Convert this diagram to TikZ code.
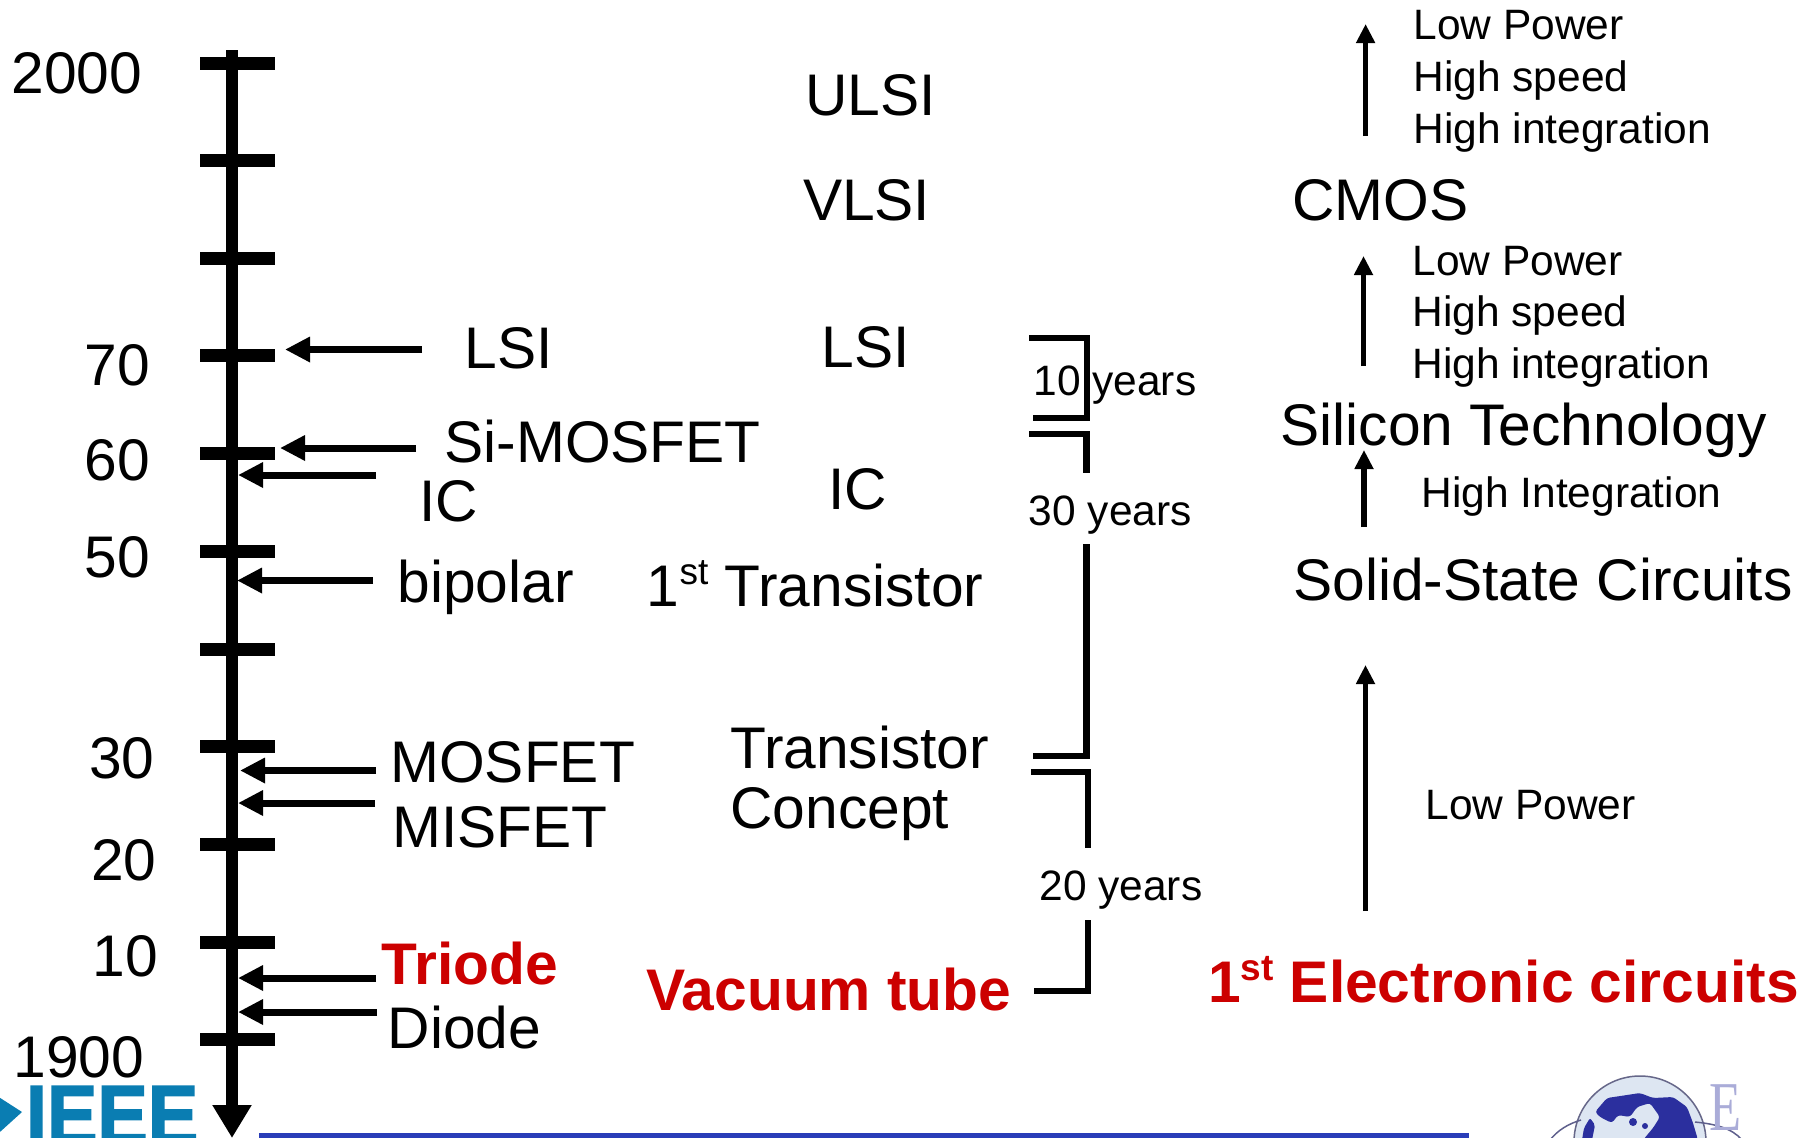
\documentclass[tikz,border=0pt]{standalone}
\usepackage{fontspec}
\setmainfont{Liberation Sans}
\newfontfamily\serifE{Liberation Serif}
\newfontfamily\ieeefont[FakeBold=2]{Liberation Sans Bold}
\usetikzlibrary{arrows.meta}
\definecolor{tred}{HTML}{CC0000}
\definecolor{tblue}{HTML}{2A3DB8}
\definecolor{ieee}{HTML}{0A7DB2}
\definecolor{globe}{HTML}{2B2F9E}
\definecolor{globel}{HTML}{DDE6F2}
\newcommand{\stsup}[1]{\raisebox{.38em}{\fontsize{#1}{#1}\selectfont st}}
\tikzset{
 x=1pt,y=-1pt,
 lbl/.style={anchor=base west,inner sep=0pt,outer sep=0pt,text=black},
 big/.style={lbl,xshift=-.6pt,yshift=.4pt,font=\fontsize{58.7}{58.7}\selectfont},
 small/.style={lbl,xshift=-.6pt,yshift=0pt,font=\fontsize{42.5}{42.5}\selectfont},
 redb/.style={lbl,text=tred,font=\fontsize{58.7}{58.7}\selectfont\bfseries},
 tick/.style={line width=13pt},
 axis/.style={line width=12pt,-{Triangle[length=33pt,width=37pt]}},
 larrow/.style={line width=7pt,-{Triangle[length=25pt,width=24pt]}},
 uparrow/.style={line width=5.5pt,-{Triangle[length=19pt,width=18pt]}},
 brk/.style={line width=6.5pt,miter limit=10},
 brkt/.style={line width=5.5pt,miter limit=10},
}
\begin{document}
\begin{tikzpicture}
\useasboundingbox (0,0) rectangle (1813,1138);
% logos
\begin{scope}
\clip (0,0) rectangle (1813,1138);
\fill[ieee] (-20,1085) -- (22,1112) -- (-20,1150) -- cycle;
\node[lbl,text=ieee,font=\fontsize{84}{84}\ieeefont,xscale=.9,anchor=base west] (ieeelogo) at (26,1144) {IEEE};
\fill[tblue] (259,1133) rectangle (1469,1138);
\fill[globel] (1640,1142) circle (66);
\draw[gray!70!globe,line width=1.5pt] (1640,1142) circle (66);
\draw[gray!60!globe,line width=1.5pt] (1550,1140) .. controls (1558,1130) and (1568,1124) .. (1581,1120);
\draw[gray!60!globe,line width=1.5pt] (1695,1122) .. controls (1715,1124) and (1732,1128) .. (1742,1140);
\fill[globe,rounded corners=3pt] (1595,1112) -- (1607,1098) -- (1627,1095) -- (1640,1093) -- (1653,1098) -- (1673,1097) -- (1687,1107) -- (1693,1123) -- (1698,1140) -- (1643,1140) -- (1653,1128) -- (1660,1117) -- (1650,1103) -- (1637,1107) -- (1630,1117) -- (1618,1115) -- (1612,1123) -- (1600,1117) -- cycle;
\fill[globe] (1633,1122) circle (4);
\fill[globe] (1645,1126) circle (3);
\fill[globe,rounded corners=2pt] (1590,1118) -- (1595,1125) -- (1592,1140) -- (1582,1140) -- (1584,1128) -- cycle;
\node[lbl,text=globe!40,font=\fontsize{70}{70}\serifE,xscale=.75,anchor=base west] (globee) at (1709,1130) {E};
\end{scope}
% axis
\coordinate (axtop) at (232,50);
\coordinate (axbot) at (232,1138);
\draw[axis] (axtop) -- (axbot);
\foreach \yy in {63,160.5,258,355.5,453,551,649,746,844,942,1039}
  \draw[tick] (200,\yy) -- (275,\yy);
% year labels
\node[big] (y2000) at (12,93.7) {2000};
\node[big] (y70) at (85,386) {70};
\node[big] (y60) at (85,481) {60};
\node[big] (y50) at (85,578) {50};
\node[big] (y30) at (89.6,779) {30};
\node[big] (y20) at (91.6,881) {20};
\node[big] (y10) at (93,977) {10};
\node[big] (y1900) at (14,1078) {1900};
% left labels
\node[big] (lsi) at (465,369) {LSI};
\node[big] (simos) at (445,462.5) {Si-MOSFET};
\node[big] (ic) at (420,521.5) {IC};
\node[big] (bip) at (398,602.5) {bipolar};
\node[big] (mos) at (391,783) {MOSFET};
\node[big] (mis) at (393,847.5) {MISFET};
\node[redb] (tri) at (381.6,984) {Triode};
\node[big] (dio) at (388.5,1049) {Diode};
% left arrows
\foreach \nm/\yy/\xa/\xb in {a/349.5/422/285,b/448/416/280,c/475/376/238,d/580.5/373/237,e/770.5/376/240,f/803/375/238,g/978/376/238,h/1012/377/238}{
  \coordinate (\nm s) at (\xa,\yy);
  \coordinate (\nm e) at (\xb,\yy);
  \draw[larrow] (\nm s) -- (\nm e);
}
% middle labels
\node[big] (ulsi) at (806,115.6) {ULSI};
\node[big] (vlsi) at (803.6,221) {VLSI};
\node[big] (lsim) at (822,367.7) {LSI};
\node[big] (icm) at (829,510) {IC};
\node[big] (tr1) at (647.5,607) {1\stsup{37} Transistor};
\node[big] (trc) at (731,769) {Transistor};
\node[big] (con) at (731,829) {Concept};
\node[redb] (vac) at (646,1010) {Vacuum tube};
% brackets
\coordinate (b1a) at (1029,338); \coordinate (b1b) at (1087,338); \coordinate (b1c) at (1087,418); \coordinate (b1d) at (1033,418);
\draw[brk] (b1a) -- (b1b) -- (b1c) -- (b1d);
\coordinate (b2a) at (1029,434); \coordinate (b2b) at (1086.5,434); \coordinate (b2c) at (1086.5,473);
\draw[brk] (b2a) -- (b2b) -- (b2c);
\coordinate (b3a) at (1086.5,544); \coordinate (b3b) at (1086.5,756); \coordinate (b3c) at (1033,756);
\draw[brk] (b3a) -- (b3b) -- (b3c);
\coordinate (b4a) at (1031,772); \coordinate (b4b) at (1088,772); \coordinate (b4c) at (1088,848);
\draw[brkt] (b4a) -- (b4b) -- (b4c);
\coordinate (b5a) at (1088,920); \coordinate (b5b) at (1088,991); \coordinate (b5c) at (1034,991);
\draw[brkt] (b5a) -- (b5b) -- (b5c);
\node[small] (t10) at (1034,395.5) {10 years};
\node[small] (t30) at (1029.4,525) {30 years};
\node[small] (t20) at (1040,900) {20 years};
% right column
\node[small] (r1) at (1414,39) {Low Power};
\node[small] (r2) at (1414,91) {High speed};
\node[small] (r3) at (1414,143) {High integration};
\node[big] (cmos) at (1293,221) {CMOS};
\node[small] (r4) at (1413,275) {Low Power};
\node[small] (r5) at (1413,326) {High speed};
\node[small] (r6) at (1413,378) {High integration};
\node[big] (sit) at (1281,446) {Silicon Technology};
\node[small] (r7) at (1422,507.6) {High Integration};
\node[big] (ssc) at (1294,601) {Solid-State Circuits};
\node[small] (r8) at (1426,819) {Low Power};
\node[redb] (elec) at (1208,1002.5) {1\stsup{37} Electronic circuits};
% up arrows
\foreach \nm/\xx/\ya/\yb in {p/1365.6/136/24,q/1363.5/366/256,r/1364/527/450,s/1365.5/911/665}{
  \coordinate (\nm s) at (\xx,\ya);
  \coordinate (\nm e) at (\xx,\yb);
  \draw[uparrow] (\nm s) -- (\nm e);
}
\end{tikzpicture}
\end{document}
